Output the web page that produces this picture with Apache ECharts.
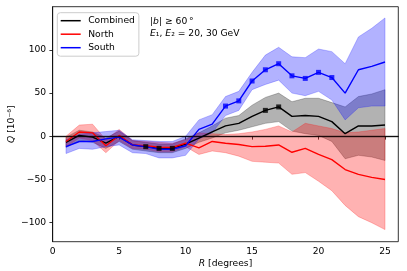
<!DOCTYPE html>
<html><head><meta charset="utf-8">
<script src="https://cdn.jsdelivr.net/npm/echarts@6/dist/echarts.min.js"></script>
<style>html,body{margin:0;padding:0;background:#fff}#c{width:407px;height:271px}</style>
</head><body><div id="c"></div>
<script>
// ---- data ----
const R = [1,2,3,4,5,6,7,8,9,10,11,12,13,14,15,16,17,18,19,20,21,22,23,24,25];
const combined      = [-7, 1, -1, -8, 0, -10, -12, -14, -14, -9, -2, 5, 12, 15, 23, 30, 34, 23, 24, 23, 17, 3, 12, 12, 13];
const combinedLow   = [-13, -5, -7, -14, -6, -15, -17, -19, -19, -14, -7, -2, 4, 7, 11, 15, 17, 6, 3, 1, -6, -26, -22, -24, -28];
const combinedHigh  = [-1, 7, 5, -2, 6, -5, -7, -9, -9, -3, 4, 12, 21, 24, 36, 45, 50, 40, 44, 44, 39, 34, 46, 49, 54];
const north         = [-6, 5, 4, -11, 1, -10, -11, -12.5, -13, -8, -13.5, -6, -8, -9.5, -12, -11.5, -10, -18.5, -14, -21, -27, -38.5, -44, -47.5, -50];
const northLow      = [-12, -2, -5, -19, -5, -14, -15, -18, -18, -12, -21, -17, -19, -23, -29, -30, -31, -44, -42, -52, -63, -80, -93, -100, -108];
const northHigh     = [0, 13, 14, -4, 8, -5, -6, -7, -8, -4, 4, 3, 2, 3, 5, 8, 12, 5, 15, 12, 9, 4, 5, 7, 9];
const south         = [-12, -6, -6, -3, -1, -10, -12, -15, -15, -11, 8, 14, 35, 41, 64, 77, 84, 70, 67, 74, 68, 50, 77, 81, 86];
const southLow      = [-20, -14, -15, -12, -10, -19, -20, -25, -25, -22, -3, 4, 24, 30, 54, 60, 65, 50, 47, 52, 42, 19, 33, 35, 35];
const southHigh     = [-4, 2.5, 4, 5.5, 7, -4, -5, -6, -6, 0, 19, 25, 46, 52, 74, 94, 103, 92, 91, 101, 98, 84, 115, 125, 137];
const combinedMarked = [7, 8, 9, 16, 17];
const southMarked    = [13, 14, 15, 16, 17, 18, 19, 20, 21];
const xTicks = [0, 5, 10, 15, 20, 25];
const yTicks = [-100, -50, 0, 50, 100];
const seriesNames = ['Combined', 'North', 'South'];

const FONT = 'DejaVu Sans';
const FS = 9.2;
const minus = v => (v < 0 ? '\u2212' + Math.abs(v) : String(v));

function band(lo, hi, fill, stroke) {
  const data = R.map((x, i) => [x, lo[i], hi[i]]);
  return {
    type: 'custom', silent: true, z: 1, data,
    encode: { x: 0, y: [1, 2] },
    renderItem(params, api) {
      if (params.dataIndex !== 0) return null;
      const top = data.map(d => api.coord([d[0], d[2]]));
      const bot = data.map(d => api.coord([d[0], d[1]])).reverse();
      return { type: 'polygon', shape: { points: top.concat(bot) },
               style: { fill: fill, stroke: stroke, lineWidth: 0.8 } };
    }
  };
}
function line(name, ys, color, extra) {
  return Object.assign({
    type: 'line', name, z: 3, symbol: 'none', silent: true,
    data: R.map((x, i) => [x, ys[i]]),
    lineStyle: { color, width: 1.4 }, itemStyle: { color }
  }, extra || {});
}
function marks(ys, marked, color) {
  return { type: 'scatter', z: 4, silent: true, symbol: 'rect', symbolSize: 5,
    itemStyle: { color },
    data: R.map((x, i) => [x, ys[i]]).filter(d => marked.includes(d[0])) };
}

const chart = echarts.init(document.getElementById('c'), null, { renderer: 'canvas' });
chart.setOption({
  animation: false,
  textStyle: { fontFamily: FONT },
  grid: { left: 52.7, right: 8.7, top: 6.7, bottom: 29.3, show: true,
          borderColor: '#000', borderWidth: 0.8, backgroundColor: 'transparent' },
  xAxis: {
    type: 'value', min: 0, max: 26,
    axisLine: { show: true, lineStyle: { color: '#000', width: 0.8 } },
    axisTick: { show: true, length: 3.3, lineStyle: { color: '#000', width: 0.8 }, customValues: xTicks },
    axisLabel: { color: '#000', fontSize: FS, fontFamily: FONT, margin: 5, customValues: xTicks },
    splitLine: { show: false }
  },
  yAxis: {
    type: 'value', min: -122, max: 150,
    axisLine: { show: true, lineStyle: { color: '#000', width: 0.8 } },
    axisTick: { show: true, length: 3.3, lineStyle: { color: '#000', width: 0.8 }, customValues: yTicks },
    axisLabel: { color: '#000', fontSize: FS, fontFamily: FONT, margin: 6.5, customValues: yTicks, formatter: minus },
    splitLine: { show: false }
  },
  legend: {
    data: seriesNames, orient: 'vertical', left: 57.3, top: 12.7,
    icon: 'rect', itemWidth: 20, itemHeight: 1.5, itemGap: 3.5,
    padding: [3, 4, 3.5, 3.4],
    borderColor: '#cccccc', borderWidth: 1, borderRadius: 3,
    backgroundColor: 'rgba(255,255,255,0.8)',
    textStyle: { fontSize: FS, fontFamily: FONT, color: '#000', lineHeight: 10, padding: [0, 0, 0, 2.5] },
    selectedMode: false
  },
  graphic: [
    { type: 'text', left: 150, top: 17.5, silent: true,
      style: { text: '|{i|b}| \u2265 60\u2009\u00b0', fontSize: FS, fontFamily: FONT, fill: '#000',
               rich: { i: { fontStyle: 'italic', fontSize: FS, fontFamily: FONT } } } },
    { type: 'text', left: 150, top: 29, silent: true,
      style: { text: '{i|E}\u2081, {i|E}\u2082 = 20, 30 GeV', fontSize: FS, fontFamily: FONT, fill: '#000',
               rich: { i: { fontStyle: 'italic', fontSize: FS, fontFamily: FONT } } } },
    { type: 'text', x: 225.5, y: 264, silent: true,
      style: { text: '{i|R} [degrees]', fontSize: FS, fontFamily: FONT, fill: '#000',
               align: 'center', verticalAlign: 'middle',
               rich: { i: { fontStyle: 'italic', fontSize: FS, fontFamily: FONT } } } },
    { type: 'text', x: 12, y: 124.2, rotation: Math.PI / 2, silent: true,
      style: { text: '{i|Q} [10\u207b\u2076]', fontSize: FS, fontFamily: FONT, fill: '#000',
               align: 'center', verticalAlign: 'middle',
               rich: { i: { fontStyle: 'italic', fontSize: FS, fontFamily: FONT } } } }
  ],
  series: [
    band(combinedLow, combinedHigh, 'rgba(0,0,0,0.3)', 'rgba(0,0,0,0.3)'),
    band(northLow, northHigh, 'rgba(255,0,0,0.3)', 'rgba(255,0,0,0.3)'),
    band(southLow, southHigh, 'rgba(0,0,255,0.3)', 'rgba(0,0,255,0.3)'),
    line('Combined', combined, '#000000', {
      markLine: { silent: true, symbol: 'none', label: { show: false },
                  lineStyle: { color: 'rgba(0,0,0,0.7)', width: 1.4, type: 'solid' },
                  data: [{ yAxis: 0 }] } }),
    line('North', north, '#ff0000'),
    line('South', south, '#0000ff'),
    marks(combined, combinedMarked, '#000000'),
    marks(south, southMarked, '#0000ff')
  ]
});
</script></body></html>
